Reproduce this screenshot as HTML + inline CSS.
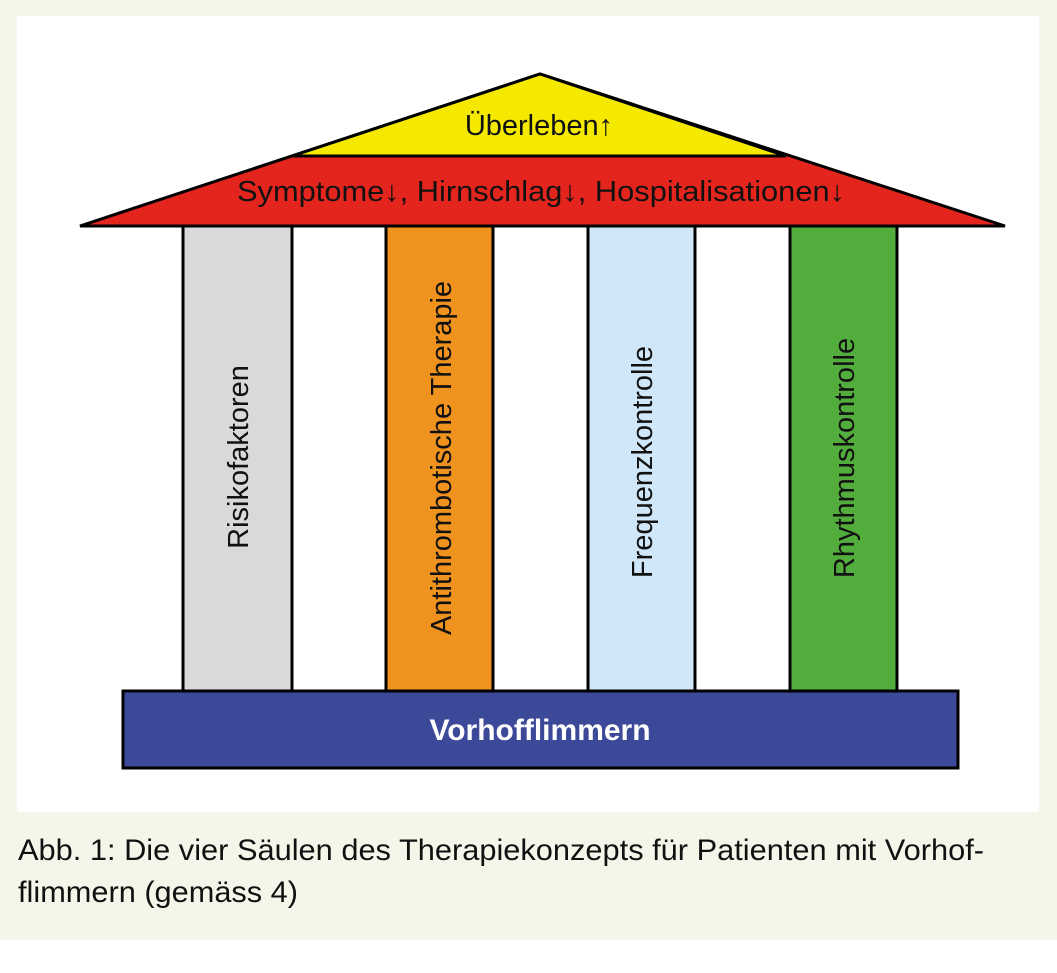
<!DOCTYPE html>
<html><head><meta charset="utf-8"><style>
html,body{margin:0;padding:0;background:#fff;}
svg{display:block;}
</style></head><body>
<svg width="1057" height="973" viewBox="0 0 1057 973" xmlns="http://www.w3.org/2000/svg" font-family="Liberation Sans, Arial, sans-serif">
<rect x="0" y="0" width="1057" height="940" fill="#f5f6ea"/>
<rect x="17" y="16" width="1022" height="796" fill="#fff"/>
<!-- roof -->
<polygon points="80,226 540,74 1005,226" fill="#e4251e" stroke="#000" stroke-width="3" stroke-linejoin="miter"/>
<polygon points="292,156 540,74 786,156" fill="#f5e900" stroke="#000" stroke-width="3"/>
<line x1="292" y1="156" x2="786" y2="156" stroke="#000" stroke-width="3"/>
<text x="539" y="135" font-size="29" text-anchor="middle" fill="#111">Überleben↑</text>
<text x="541" y="201" font-size="29" text-anchor="middle" fill="#111" textLength="608" lengthAdjust="spacingAndGlyphs">Symptome↓, Hirnschlag↓, Hospitalisationen↓</text>
<!-- pillars -->
<rect x="183" y="226" width="109" height="465" fill="#d9d9db" stroke="#000" stroke-width="3"/>
<rect x="386" y="226" width="107" height="465" fill="#f0921e" stroke="#000" stroke-width="3"/>
<rect x="588" y="226" width="107" height="465" fill="#cfe7f8" stroke="#000" stroke-width="3"/>
<rect x="790" y="226" width="107" height="465" fill="#52ad3c" stroke="#000" stroke-width="3"/>
<text transform="translate(248,457) rotate(-90)" font-size="29" text-anchor="middle" fill="#111">Risikofaktoren</text>
<text transform="translate(451,458) rotate(-90)" font-size="29" text-anchor="middle" fill="#111">Antithrombotische Therapie</text>
<text transform="translate(652,462) rotate(-90)" font-size="29" text-anchor="middle" fill="#111">Frequenzkontrolle</text>
<text transform="translate(854,458) rotate(-90)" font-size="29" text-anchor="middle" fill="#111">Rhythmuskontrolle</text>
<!-- base -->
<rect x="123" y="691" width="835" height="77" fill="#3c4898" stroke="#000" stroke-width="3"/>
<text x="540" y="740" font-size="30" font-weight="bold" text-anchor="middle" fill="#fff">Vorhofflimmern</text>
<!-- caption -->
<text x="18" y="860" font-size="30" fill="#111" textLength="966" lengthAdjust="spacingAndGlyphs">Abb. 1: Die vier Säulen des Therapiekonzepts für Patienten mit Vorhof-</text>
<text x="18" y="902" font-size="30" fill="#111" textLength="280" lengthAdjust="spacingAndGlyphs">flimmern (gemäss 4)</text>
</svg>
</body></html>
